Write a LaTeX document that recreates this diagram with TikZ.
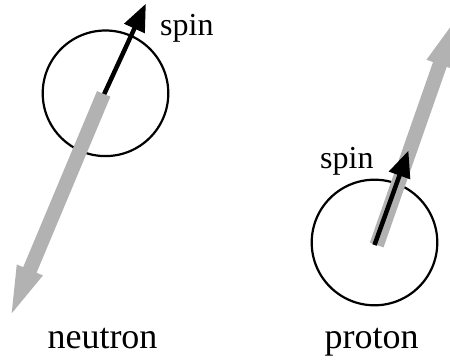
\documentclass[tikz,border=0pt]{standalone}
\usepackage{fontspec}
\setmainfont{Liberation Serif}
\newfontfamily\labelserif{Liberation Serif}
\usetikzlibrary{calc}
\tikzset{
  ball/.style={circle,draw=black,line width=2.2pt,minimum size=125.6pt,inner sep=0pt},
  grayfill/.style={fill=black!30,draw=none},
  spinshaft/.style={draw=black,line width=4.5pt},
  spinlabel/.style={font=\labelserif\fontsize{32}{32}\selectfont,inner sep=0pt,anchor=base west},
  namelabel/.style={font=\labelserif\fontsize{36}{36}\selectfont,inner sep=0pt,anchor=base},
}
\begin{document}
\begin{tikzpicture}[x=1pt,y=-1pt]
\useasboundingbox (0,0) rectangle (450,361);
\clip (0,0) rectangle (450,361);
% particles
\node[ball] (nball) at (105.5,93.3) {};
\node[ball] (pball) at (374.5,242.5) {};
% neutron spin (black), under the gray moment arrow
\coordinate (nsT) at (101,101);
\coordinate (nsP) at (145.7,4);
\coordinate (nsB) at ($(nsP)!27pt!(nsT)$);
\coordinate (nsE) at ($(nsP)!24pt!(nsT)$);
\draw[spinshaft] (nsT) -- (nsE);
\fill[black] (nsP) -- ($(nsB)!11.5pt!90:(nsP)$) -- ($(nsB)!11.5pt!-90:(nsP)$) -- cycle;
% neutron gray arrow
\coordinate (ngT) at (103.7,93.9);
\coordinate (ngP) at (11.7,313.3);
\coordinate (ngB) at ($(ngP)!47pt!(ngT)$);
\fill[grayfill] ($(ngT)!7.25pt!90:(ngP)$) -- ($(ngB)!7.25pt!90:(ngP)$) -- ($(ngB)!14.2pt!90:(ngP)$)
  -- (ngP) -- ($(ngB)!14.2pt!-90:(ngP)$) -- ($(ngB)!7.25pt!-90:(ngP)$) -- ($(ngT)!7.25pt!-90:(ngP)$) -- cycle;
% proton gray arrow
\coordinate (pgT) at (376.7,245);
\coordinate (pgP) at (455.4,20.1);
\coordinate (pgB) at ($(pgP)!47pt!(pgT)$);
\fill[grayfill] ($(pgT)!7.25pt!90:(pgP)$) -- ($(pgB)!7.25pt!90:(pgP)$) -- ($(pgB)!14.2pt!90:(pgP)$)
  -- (pgP) -- ($(pgB)!14.2pt!-90:(pgP)$) -- ($(pgB)!7.25pt!-90:(pgP)$) -- ($(pgT)!7.25pt!-90:(pgP)$) -- cycle;
% proton spin (black), over the gray arrow
\coordinate (psT) at (374.5,245);
\coordinate (psP) at (408.3,151);
\coordinate (psB) at ($(psP)!26pt!(psT)$);
\coordinate (psE) at ($(psP)!23pt!(psT)$);
\draw[spinshaft] (psT) -- (psE);
\fill[black] (psP) -- ($(psB)!11.5pt!90:(psP)$) -- ($(psB)!11.5pt!-90:(psP)$) -- cycle;
% labels
\node[spinlabel] (nspin) at (160,36) {spin};
\node[spinlabel] (pspin) at (320,168) {spin};
\node[namelabel] (nname) at (102.5,348.5) {neutron};
\node[namelabel] (pname) at (371.7,348.5) {proton};
\end{tikzpicture}
\end{document}
